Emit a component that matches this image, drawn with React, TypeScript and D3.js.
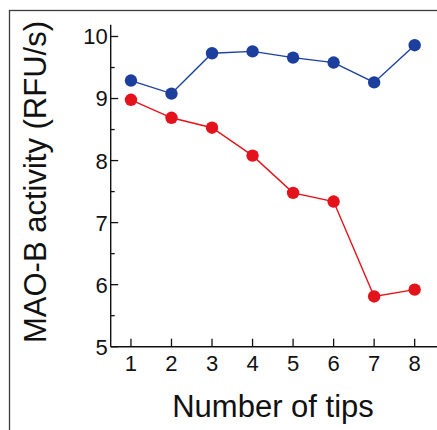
import { useMemo } from 'react';
import * as d3 from 'd3';

const WIDTH = 437;
const HEIGHT = 430;

// number of tips
const tips = [1, 2, 3, 4, 5, 6, 7, 8];
// MAO-B activity (RFU/s)
const blueSeries = [9.29, 9.08, 9.73, 9.76, 9.66, 9.58, 9.26, 9.86];
const redSeries = [8.98, 8.69, 8.53, 8.08, 7.48, 7.34, 5.81, 5.92];

const yMajorTicks = [5, 6, 7, 8, 9, 10];
const yMinorTicks = [5.5, 6.5, 7.5, 8.5, 9.5];

const BLUE = '#1c3f9e';
const RED = '#e3121b';
const FONT = 'Liberation Sans, Arial, sans-serif';

export default function App() {
  const x = useMemo(() => d3.scaleLinear().domain([0.5, 8.6]).range([110.7, 110.7 + 8.1 * 40.53]), []);
  const y = useMemo(() => d3.scaleLinear().domain([5, 10]).range([346.7, 36.5]), []);

  const line = d3
    .line<number>()
    .x((_, i) => x(tips[i]))
    .y((d) => y(d));

  const series = [
    { values: blueSeries, color: BLUE },
    { values: redSeries, color: RED },
  ];

  const x0 = x(0.5);
  const y0 = y(5);

  return (
    <div style={{ position: 'absolute', left: 0, top: 0 }}>
      <svg width={WIDTH} height={HEIGHT} style={{ display: 'block', background: '#fff' }}>
        {/* frame */}
        <rect x={9.5} y={10.5} width={600} height={600} fill="none" stroke="#3c3c3c" strokeWidth={1.3} />

        {/* axes */}
        <line x1={x0} y1={y(10.19)} x2={x0} y2={y0} stroke="#111" strokeWidth={1.4} />
        <line x1={x0} y1={y0} x2={WIDTH} y2={y0} stroke="#111" strokeWidth={1.4} />

        {yMajorTicks.map((t) => (
          <g key={t}>
            <line x1={x0} x2={x0 + 7.5} y1={y(t)} y2={y(t)} stroke="#111" strokeWidth={1.3} />
            <text
              x={x0 - 3}
              y={y(t)}
              dy="0.36em"
              textAnchor="end"
              fontFamily={FONT}
              fontSize={22}
              fill="#111"
            >
              {t}
            </text>
          </g>
        ))}
        {yMinorTicks.map((t) => (
          <line key={t} x1={x0} x2={x0 + 4} y1={y(t)} y2={y(t)} stroke="#111" strokeWidth={1.3} />
        ))}

        {tips.map((t) => (
          <g key={t}>
            <line x1={x(t)} x2={x(t)} y1={y0} y2={y0 - 8} stroke="#111" strokeWidth={1.3} />
            <text x={x(t)} y={371} textAnchor="middle" fontFamily={FONT} fontSize={22} fill="#111">
              {t}
            </text>
          </g>
        ))}

        {/* axis labels */}
        <text x={273} y={417} textAnchor="middle" fontFamily={FONT} fontSize={31} fill="#111">
          Number of tips
        </text>
        <text
          transform={`translate(46, 182) rotate(-90)`}
          textAnchor="middle"
          fontFamily={FONT}
          fontSize={31}
          fill="#111"
        >
          MAO-B activity (RFU/s)
        </text>

        {/* series */}
        {series.map((s, si) => (
          <g key={si}>
            <path d={line(s.values) ?? ''} fill="none" stroke={s.color} strokeWidth={1.4} />
            {s.values.map((v, i) => (
              <circle key={i} cx={x(tips[i])} cy={y(v)} r={6.2} fill={s.color} />
            ))}
          </g>
        ))}
      </svg>
    </div>
  );
}
